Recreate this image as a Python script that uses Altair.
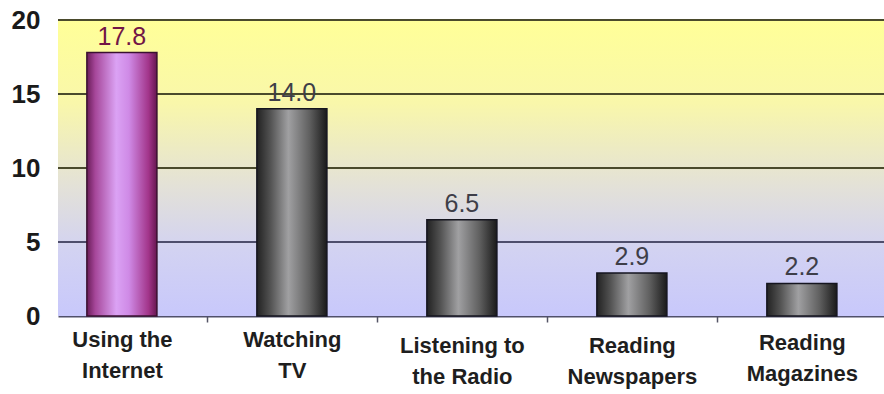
import altair as alt
import pandas as pd

categories = ["Using the\nInternet", "Watching\nTV", "Listening to\nthe Radio",
              "Reading\nNewspapers", "Reading\nMagazines"]
values = [17.8, 14.0, 6.5, 2.9, 2.2]
y_ticks = [0, 5, 10, 15, 20]

df = pd.DataFrame({"activity": categories, "value": values})
ticks_df = pd.DataFrame({"tick": y_ticks})
highlight = categories[0]

purple_grad = alt.LinearGradient(
    gradient="linear", x1=0, y1=0, x2=1, y2=0,
    stops=[
        alt.GradientStop(offset=0, color="#6a1c58"),
        alt.GradientStop(offset=0.12, color="#a6479a"),
        alt.GradientStop(offset=0.42, color="#dba2f4"),
        alt.GradientStop(offset=0.6, color="#cf8ae6"),
        alt.GradientStop(offset=0.88, color="#a2358a"),
        alt.GradientStop(offset=1, color="#661650"),
    ],
)
gray_grad = alt.LinearGradient(
    gradient="linear", x1=0, y1=0, x2=1, y2=0,
    stops=[
        alt.GradientStop(offset=0, color="#222222"),
        alt.GradientStop(offset=0.2, color="#545454"),
        alt.GradientStop(offset=0.45, color="#a0a0a2"),
        alt.GradientStop(offset=0.75, color="#606060"),
        alt.GradientStop(offset=1, color="#1a1a1a"),
    ],
)
bg_grad = alt.LinearGradient(
    gradient="linear", x1=0, y1=0, x2=0, y2=1,
    stops=[
        alt.GradientStop(offset=0, color="#ffff98"),
        alt.GradientStop(offset=0.28, color="#f9f7aa"),
        alt.GradientStop(offset=0.55, color="#e4e2d6"),
        alt.GradientStop(offset=0.78, color="#d2d2f2"),
        alt.GradientStop(offset=1, color="#c8c8fb"),
    ],
)

label_padding = {
    "condition": [
        {"test": "indexof(datum.value, 'Listening') == 0 || indexof(datum.value, 'Newspapers') > 0", "value": 13},
        {"test": "indexof(datum.value, 'Magazines') > 0", "value": 10},
    ],
    "value": 7,
}

x_enc = alt.X(
    "activity:N", sort=categories, title=None,
    scale=alt.Scale(paddingInner=0.588, paddingOuter=0.2235, align=0.38),
    axis=alt.Axis(
        labelAngle=0, labelExpr="split(datum.label, '\\n')",
        labelFont="Liberation Sans", labelFontWeight="bold", labelFontSize=22,
        labelColor="#1e1e1e", labelLineHeight=31, labelPadding=label_padding, labelBaseline="top",
        ticks=True, tickSize=6, tickColor="#555566", tickWidth=1.5,
        tickOffset=85, labelOffset=-85,
        domain=True, domainColor="#50506a", domainWidth=2, grid=False,
    ),
)
y_scale = alt.Scale(domain=[0, 20], nice=False)
y_axis = alt.Axis(
    values=y_ticks, domain=False, ticks=False, grid=False,
    labelFont="Liberation Sans Narrow, Liberation Sans", labelFontWeight="bold", labelFontSize=26,
    labelColor="#1a1a1a", labelPadding=18,
)
y_enc = alt.Y("value:Q", title=None, scale=y_scale, axis=y_axis)

background = alt.Chart(pd.DataFrame({"lo": [y_ticks[0]], "hi": [y_ticks[-1]]})).mark_rect(
    color=bg_grad
).encode(
    x=alt.value(0), x2=alt.value(826),
    y=alt.Y("hi:Q", title=None, scale=y_scale, axis=y_axis), y2="lo:Q",
)

grid = alt.Chart(ticks_df).transform_filter(alt.datum.tick > 0).mark_rule(strokeWidth=2).encode(
    y=alt.Y("tick:Q", title=None, scale=y_scale, axis=y_axis),
    color=alt.condition(alt.datum.tick == 5, alt.value("#4e4e6c"), alt.value("#4a4a2c")),
)

base = alt.Chart(df)

bars_hi = base.transform_filter(alt.datum.activity == highlight).mark_bar(
    color=purple_grad, stroke="#3a1030", strokeWidth=1.5
).encode(x=x_enc, y=y_enc)

bars_rest = base.transform_filter(alt.datum.activity != highlight).mark_bar(
    color=gray_grad, stroke="#15151f", strokeWidth=1.5
).encode(x=x_enc, y=y_enc)

labels = base.mark_text(
    baseline="bottom", dy=-3, font="Liberation Sans", fontSize=25
).encode(
    x=x_enc, y=y_enc,
    text=alt.Text("value:Q", format=".1f"),
    color=alt.condition(alt.datum.activity == highlight, alt.value("#721646"), alt.value("#3e3e48")),
)

chart = alt.layer(background, grid, bars_hi, bars_rest, labels).properties(
    width=826, height=296,
    autosize=alt.AutoSizeParams(type="none"),
    padding={"left": 58, "top": 20, "right": 0, "bottom": 78},
    background="#ffffff",
).configure_view(stroke=None)

chart.save("out.html", embed_options={"renderer": "svg", "actions": False})
